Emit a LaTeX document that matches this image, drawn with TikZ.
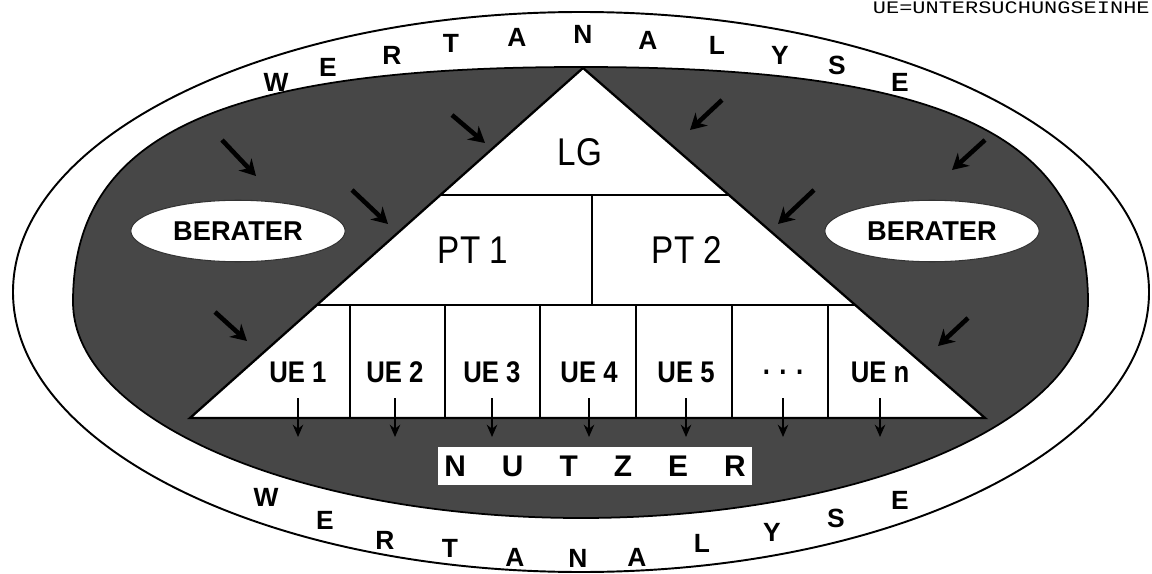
\documentclass[tikz,border=0pt]{standalone}
\usepackage{fontspec}
\setmainfont{Liberation Sans}
\newfontfamily\narrowfont{Liberation Sans}[FakeStretch=0.86]
\newfontfamily\notefont{Liberation Mono}
\usetikzlibrary{calc,arrows.meta,shapes.geometric}
\tikzset{
  rim/.style={draw=black,line width=1.1pt,fill=white},
  shade/.style={draw=black,line width=1pt,fill=black!72},
  tri/.style={draw=black,line width=1.3pt,fill=white},
  sep/.style={line width=.9pt,black},
  part/.style={font=\narrowfont\fontsize{22}{22}\selectfont,inner sep=1pt},
  cell/.style={font=\narrowfont\bfseries\fontsize{17}{17}\selectfont,inner sep=1pt},
  adv/.style={ellipse,fill=white,draw=black!80,line width=.6pt,minimum width=122pt,minimum height=35pt,font=\bfseries\fontsize{15.5}{15.5}\selectfont,inner sep=0pt},
  ltr/.style={font=\bfseries\fontsize{15}{15}\selectfont,inner sep=0pt},
  namebox/.style={fill=white,minimum width=179pt,minimum height=21.5pt,inner sep=0pt,font=\bfseries\fontsize{17}{17}\selectfont},
  push/.style={line width=2.6pt,black,-{Stealth[length=9pt,width=10pt]}},
  tck/.style={line width=.8pt,black,-{Stealth[length=7pt,width=6pt]}},
}
\begin{document}
\begin{tikzpicture}[x=0.02cm,y=-0.02cm]
  \useasboundingbox (0,0) rectangle (1152,574);
  \draw[rim] (581,292) ellipse [x radius=568,y radius=280];
  \draw[shade] (73,302) .. controls (73,135) and (220,67) .. (581,67)
    .. controls (942,67) and (1088,135) .. (1088,302)
    .. controls (1088,421) and (862,518) .. (581,518)
    .. controls (300,518) and (73,421) .. (73,302) -- cycle;
  % pyramid
  \coordinate (apex) at (583,68);
  \coordinate (bl) at (190,418);
  \coordinate (br) at (985,418);
  \draw[tri] (apex) -- (bl) -- (br) -- cycle;
  \coordinate (r1l) at ($(bl)!0.637!(apex)$);
  \coordinate (r1r) at ($(br)!0.637!(apex)$);
  \coordinate (r2l) at ($(bl)!0.323!(apex)$);
  \coordinate (r2r) at ($(br)!0.323!(apex)$);
  \draw[sep] (r1l) -- (r1r);
  \draw[sep] (r2l) -- (r2r);
  \draw[sep] (592,195) -- (592,305);
  \foreach \xx in {350,445,540,636,732,828}
    \draw[sep] (\xx,305) -- (\xx,418);
  \node[part] (lg) at (580,152) {LG};
  \node[part] (pt1) at (473,250) {PT 1};
  \node[part] (pt2) at (687,250) {PT 2};
  % units and their outputs
  \foreach \lab [count=\i] in {UE 1,UE 2,UE 3,UE 4,UE 5,. . .,UE n}{
    \pgfmathsetmacro\xx{298+97*(\i-1)}
    \node[cell] (ue\i) at (\xx,372) {\lab};
    \coordinate (t\i) at (\xx,398);
    \coordinate (d\i) at (\xx,437);
    \draw[tck] (t\i) -- (d\i);
  }
  % advisers
  \node[adv] (ber1) at (238,231) {BERATER};
  \node[adv] (ber2) at (932,231) {BERATER};
  \foreach \sx/\sy/\ex/\ey [count=\i] in {222/140/256/176,352/190/388/224,452/115/485/143,215/312/247/341,
      722/100/690/130,814/190/778/224,985/140/952/170,968/318/938/346}{
    \coordinate (s\i) at (\sx,\sy);
    \coordinate (e\i) at (\ex,\ey);
    \draw[push] (s\i) -- (e\i);
  }
  \node[namebox] (nutzer) at (595,466) {N\hspace{20.5pt}U\hspace{20.5pt}T\hspace{20.5pt}Z\hspace{20.5pt}E\hspace{20.5pt}R};
  % lettering on the ring
  \foreach \ch/\xx/\yy [count=\i] in {W/276/82,E/328/67,R/392/55,T/451/43,A/517/37,N/583/34,A/648/40,L/717/45,Y/780/55,S/837/65,E/900/82}
    \node[ltr] (up\i) at (\xx,\yy) {\ch};
  \foreach \ch/\xx/\yy [count=\i] in {W/266/497,E/325/520,R/385/540,T/450/548,A/515/557,N/578/558,A/637/557,L/702/543,Y/772/532,S/836/518,E/900/500}
    \node[ltr] (lo\i) at (\xx,\yy) {\ch};
  \node[anchor=north east,inner sep=0pt] (note) at (1150,1) {\scalebox{1.25}[1]{\notefont\fontsize{10}{10}\selectfont UE=UNTERSUCHUNGSEINHE}};
\end{tikzpicture}
\end{document}
